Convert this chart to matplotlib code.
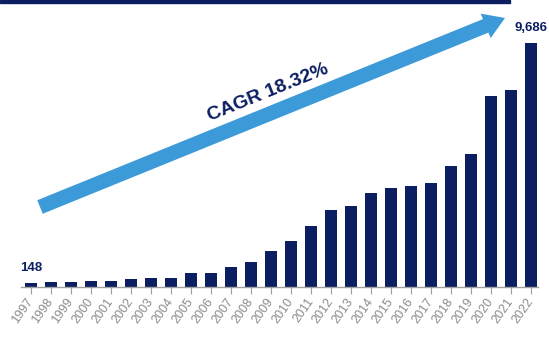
import matplotlib
matplotlib.use("Agg")
import matplotlib.pyplot as plt
import matplotlib.patches as mpatches

years = [str(y) for y in range(1997, 2023)]
values = [148, 180, 180, 220, 250, 300, 350, 350, 550, 550, 800, 1000, 1420,
          1830, 2440, 3050, 3200, 3720, 3920, 4030, 4140, 4790, 5300, 7580,
          7830, 9686]
cagr_label = "CAGR 18.32%"

navy = "#0b1e62"
light_blue = "#3d9ad9"
grey = "#8c8c8c"

plt.rcParams["font.family"] = ["Liberation Sans", "DejaVu Sans"]

fig = plt.figure(figsize=(5.49, 3.38), dpi=100)
ax = fig.add_axes([21 / 549, 51 / 338, 517 / 549, 251.6 / 338])

x = list(range(len(years)))
ax.bar(x, values, width=0.58, color=navy, zorder=2)
ax.set_xlim(-0.5, len(years) - 0.65)
ax.set_ylim(0, 10000)

for side in ["top", "right", "left"]:
    ax.spines[side].set_visible(False)
ax.spines["bottom"].set_color("#a0a0a0")
ax.spines["bottom"].set_linewidth(1.0)
ax.set_yticks([])
ax.set_xticks(x)
ax.set_xticklabels(years, rotation=55, ha="right", va="center",
                   rotation_mode="anchor", fontsize=9, color=grey)
ax.tick_params(axis="x", length=5, width=0.8, color="#a0a0a0", pad=4)

# end labels
for i in [0, len(values) - 1]:
    ax.annotate(f"{values[i]:,}", (x[i], values[i]), xytext=(0, 7),
                textcoords="offset points", ha="center", va="bottom",
                fontsize=9.5, fontweight="bold", color=navy)

# top band
fig.patches.append(mpatches.Rectangle((0, 335 / 338), 510 / 549, 3 / 338,
                                      transform=fig.transFigure, color=navy))

# growth arrow
ax.annotate("", xy=(505, 320), xytext=(40, 131), xycoords="figure pixels",
            textcoords="figure pixels",
            arrowprops=dict(arrowstyle="simple,head_length=15,head_width=19,tail_width=10.5",
                            mutation_scale=1, color=light_blue, shrinkA=0, shrinkB=0,
                            lw=0))
fig.text(268 / 549, 245 / 338, cagr_label, rotation=22, rotation_mode="anchor",
         ha="center", va="center", fontsize=14, fontweight="bold", color=navy)

fig.savefig("out.png", dpi=100)
